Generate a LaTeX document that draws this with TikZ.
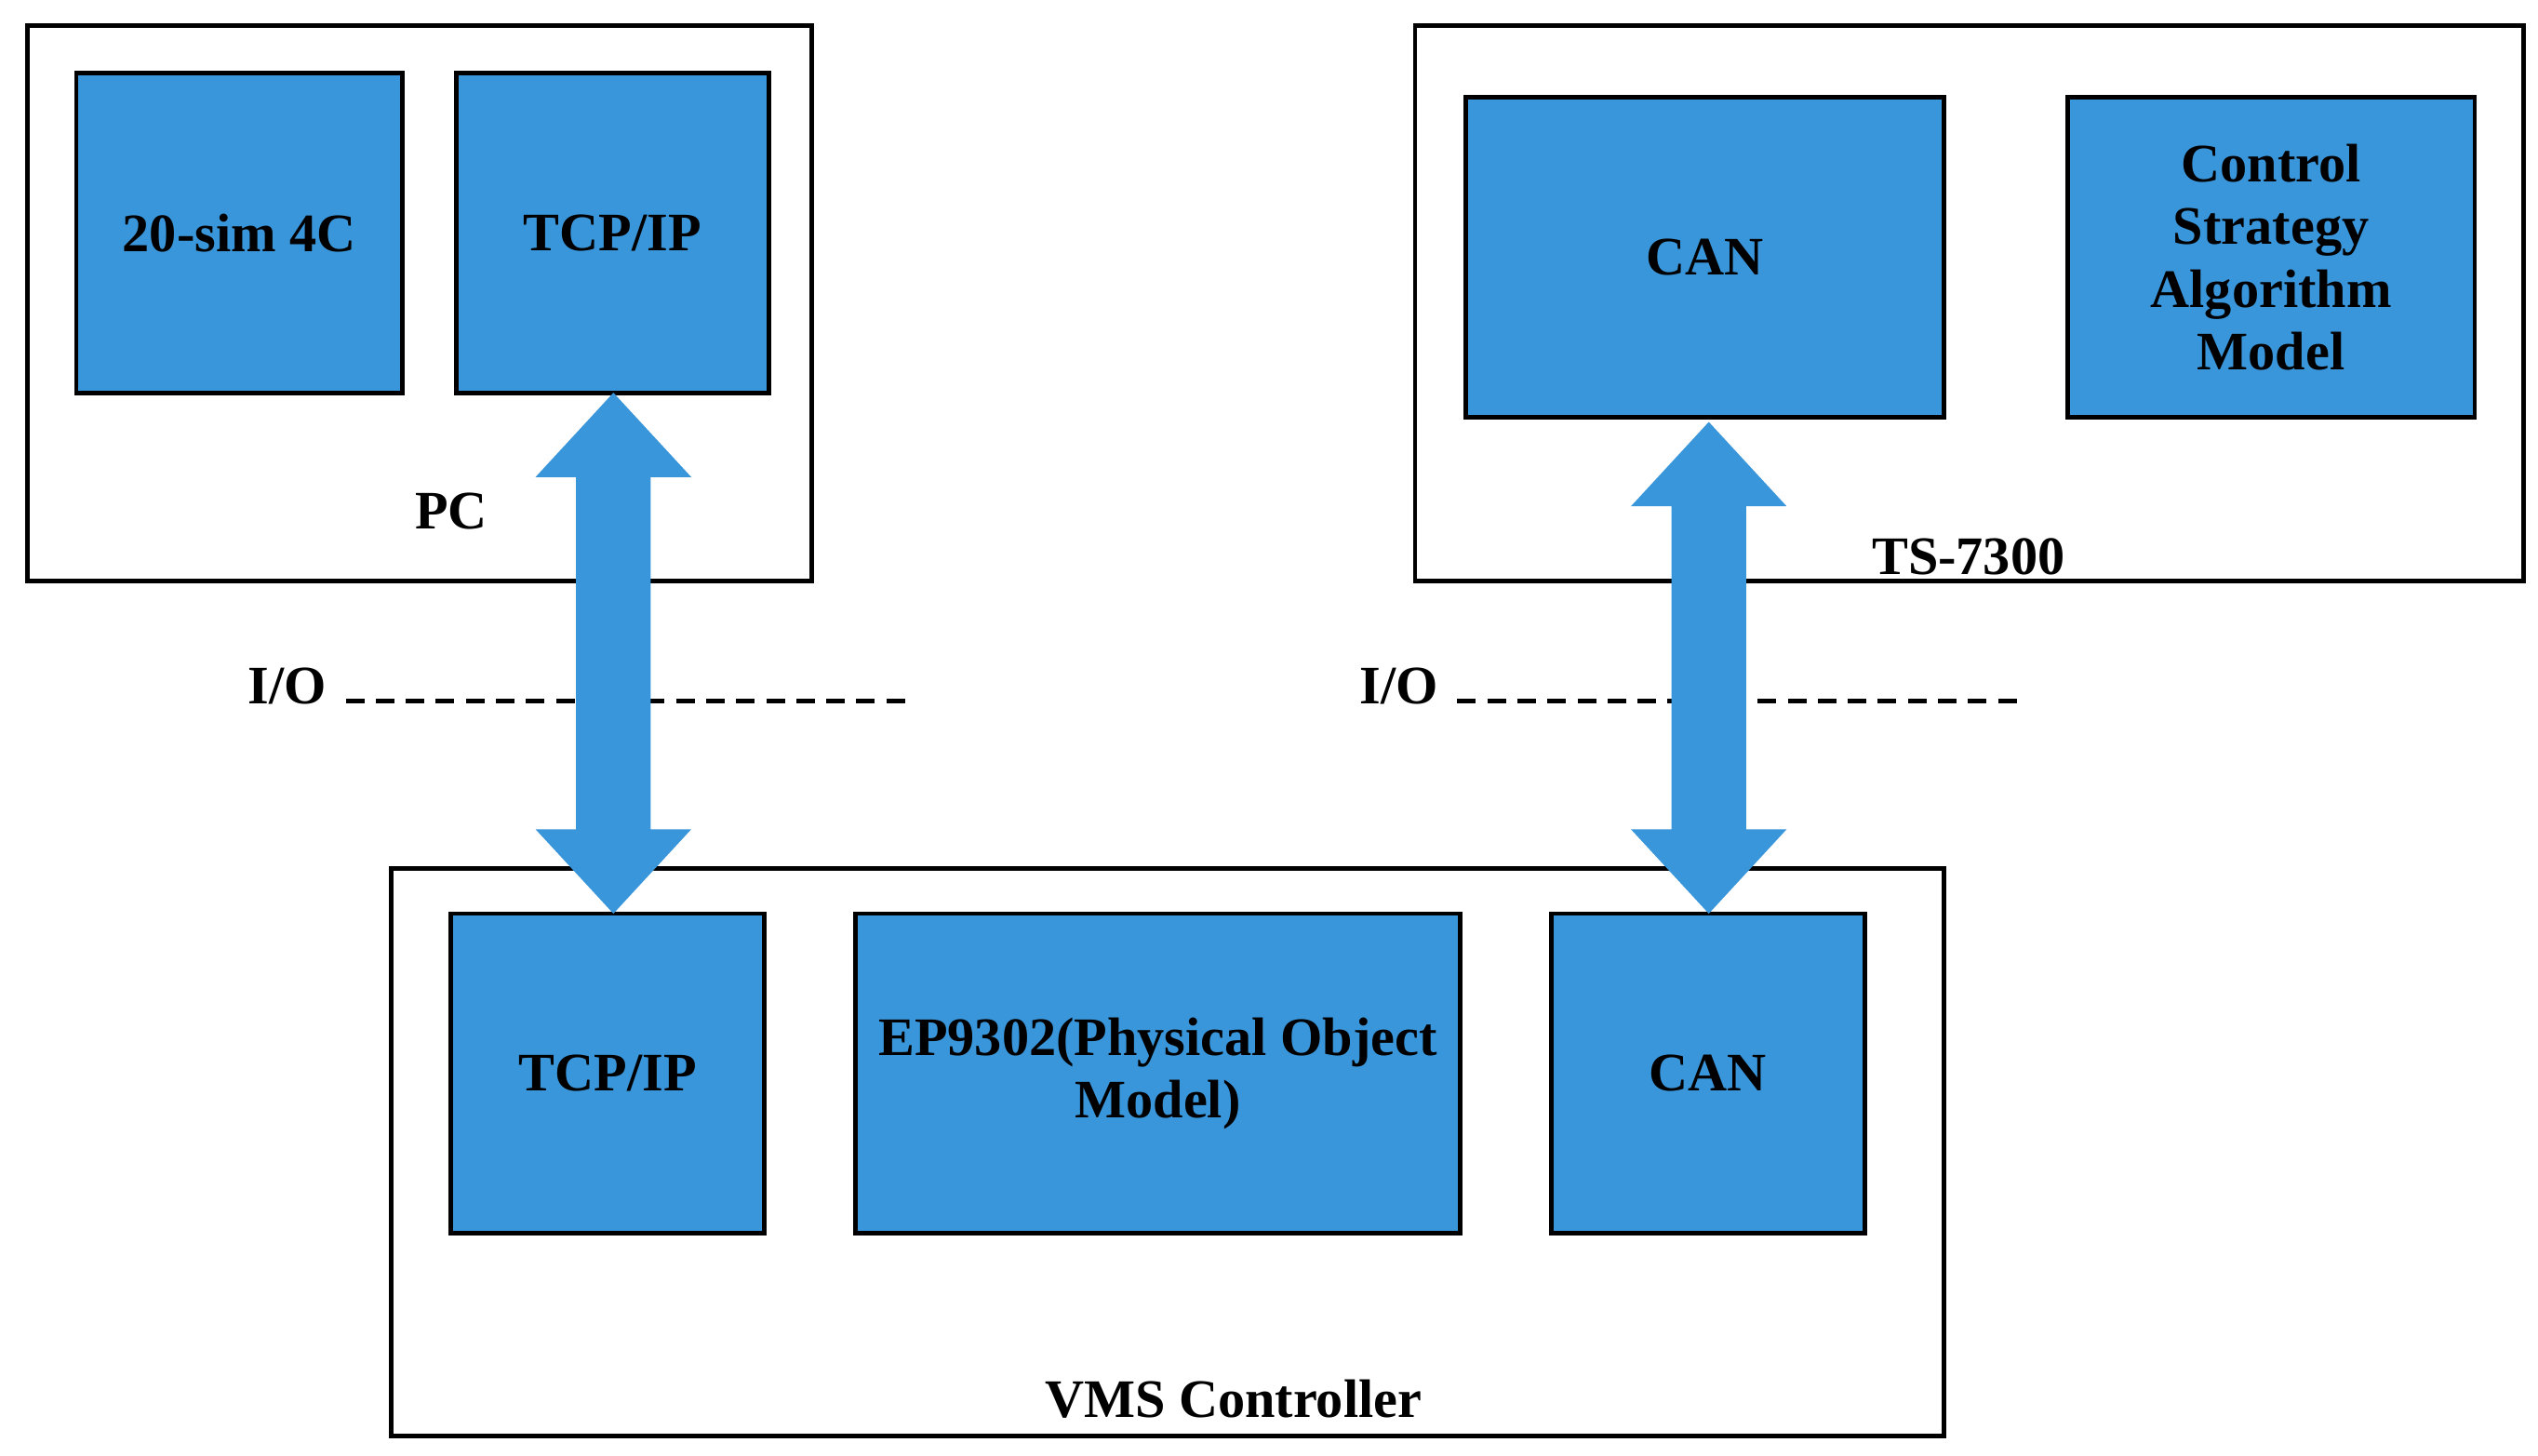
\documentclass[tikz,border=0pt]{standalone}
\usepackage{fontspec}
\setmainfont{Liberation Serif}
\begin{document}
\begin{tikzpicture}[x=0.01cm,y=-0.01cm,
  outer/.style={draw=black,line width=0.8pt},
  blk/.style={draw=black,fill=blu,line width=0.8pt,font=\bfseries\fontsize{9.5}{11}\selectfont,align=center},
  lbl/.style={font=\bfseries\fontsize{9.5}{11}\selectfont},
  iodash/.style={line width=0.9pt,dash pattern=on 1.15mm off 0.7mm}]
\definecolor{blu}{HTML}{3A96DA}
\useasboundingbox (0,0) rectangle (1564,897);
% outer boxes
\draw[outer] (17,16) rectangle (500,358);
\draw[outer] (872,16) rectangle (1555,358);
\draw[outer] (241,535) rectangle (1198,885);
\node[lbl] (pc) at (278,315) {PC};
\node[lbl] (ts) at (1213,343) {TS-7300};
\node[lbl] (vms) at (760,862) {VMS Controller};
% blocks
\node[blk,minimum width=201*0.01cm,minimum height=197*0.01cm] (sim) at (147.5,143.5) {20-sim 4C};
\node[blk,minimum width=193*0.01cm,minimum height=197*0.01cm] (tcp1) at (377.5,143.5) {TCP/IP};
\node[blk,minimum width=295*0.01cm,minimum height=197*0.01cm] (can1) at (1050.5,158.5) {CAN};
\node[blk,minimum width=251*0.01cm,minimum height=197*0.01cm] (ctl) at (1399.5,158.5) {Control\\Strategy\\Algorithm\\Model};
\node[blk,minimum width=193*0.01cm,minimum height=197*0.01cm] (tcp2) at (374.5,661.5) {TCP/IP};
\node[blk,minimum width=373*0.01cm,minimum height=197*0.01cm] (ep) at (713.5,661.5) {EP9302(Physical Object\\Model)};
\node[blk,minimum width=193*0.01cm,minimum height=197*0.01cm] (can2) at (1052.5,661.5) {CAN};
% I/O
\node[lbl] (io1) at (177,423) {I/O};
\node[lbl] (io2) at (862,423) {I/O};
\coordinate (d1) at (560,432);
\coordinate (d2) at (1245,432);
\draw[iodash] (213,432) -- (d1);
\draw[iodash] (898,432) -- (d2);
% double arrows
\foreach \cx/\ya/\yb in {378/242/563, 1053/260/563}{
  \fill[blu] (\cx,\ya) -- (\cx+48,\ya+52) -- (\cx+23,\ya+52) -- (\cx+23,\yb-52) -- (\cx+48,\yb-52)
    -- (\cx,\yb) -- (\cx-48,\yb-52) -- (\cx-23,\yb-52) -- (\cx-23,\ya+52) -- (\cx-48,\ya+52) -- cycle;
}
\end{tikzpicture}
\end{document}
